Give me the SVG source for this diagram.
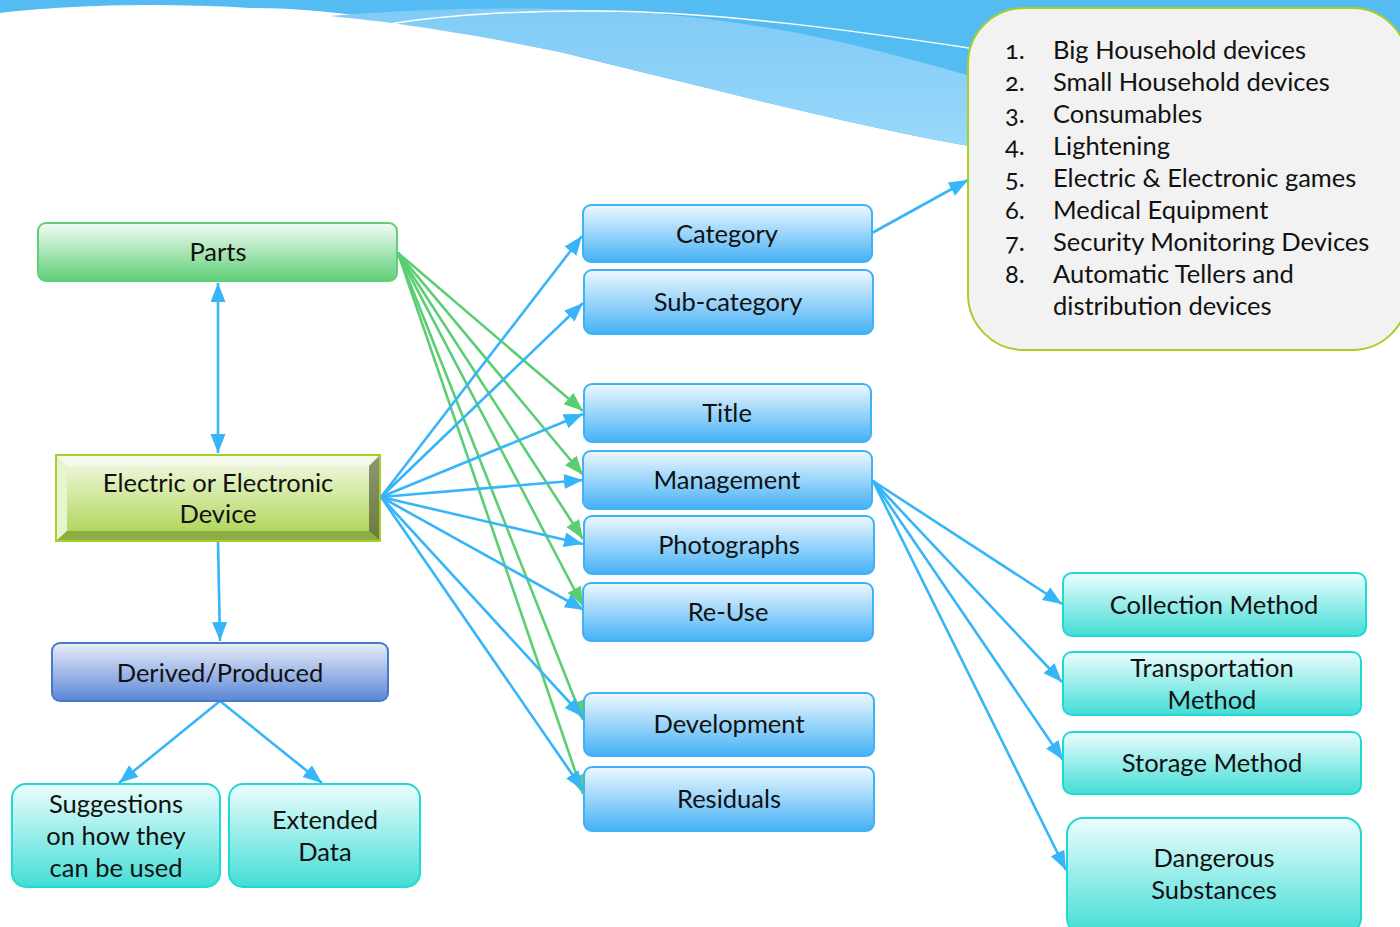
<svg xmlns="http://www.w3.org/2000/svg" width="1400" height="927" viewBox="0 0 1400 927">
<defs>
<linearGradient id="gBlue" x1="0" y1="0" x2="0" y2="1"><stop offset="0" stop-color="#eef8ff"/><stop offset="1" stop-color="#45b1f6"/></linearGradient>
<linearGradient id="gGreen" x1="0" y1="0" x2="0" y2="1"><stop offset="0" stop-color="#f2fcf4"/><stop offset="1" stop-color="#5fcf78"/></linearGradient>
<linearGradient id="gTeal" x1="0" y1="0" x2="0" y2="1"><stop offset="0" stop-color="#ecfdfd"/><stop offset="1" stop-color="#43ddd6"/></linearGradient>
<linearGradient id="gNavy" x1="0" y1="0" x2="0" y2="1"><stop offset="0" stop-color="#e9eef9"/><stop offset="1" stop-color="#5a86d6"/></linearGradient>
<linearGradient id="gLime" x1="0" y1="0" x2="0" y2="1"><stop offset="0" stop-color="#f6fbea"/><stop offset="1" stop-color="#a9d24c"/></linearGradient>
<linearGradient id="gRight" x1="0" y1="0" x2="0" y2="1"><stop offset="0" stop-color="#8e9677"/><stop offset="1" stop-color="#6b7c3a"/></linearGradient>
<linearGradient id="gWave" x1="0" y1="0" x2="0" y2="1"><stop offset="0" stop-color="#80cbf6"/><stop offset="1" stop-color="#9bd9fa"/></linearGradient>
<marker id="aB" markerUnits="userSpaceOnUse" markerWidth="21" markerHeight="17" refX="19" refY="7.5" orient="auto-start-reverse"><path d="M0,0 L19,7.5 L0,15 Z" fill="#36b5f8"/></marker>
<marker id="aG" markerUnits="userSpaceOnUse" markerWidth="21" markerHeight="17" refX="19" refY="7.5" orient="auto"><path d="M0,0 L19,7.5 L0,15 Z" fill="#5bce74"/></marker>
<style>
text{font-family:Lato,"Open Sans","Liberation Sans",sans-serif;font-size:25.5px;fill:#111;text-anchor:middle}
.list text{text-anchor:start;font-variant-numeric:oldstyle-nums}
.b{fill:url(#gBlue);stroke:#3db2f6;stroke-width:2}
.t{fill:url(#gTeal);stroke:#1fdad2;stroke-width:2}
.cb{fill:none;stroke:#36b5f8;stroke-width:2.6;marker-end:url(#aB)}
.cg{fill:none;stroke:#5bce74;stroke-width:2.6;marker-end:url(#aG)}
</style>
</defs>
<rect width="1400" height="927" fill="#ffffff"/>
<g id="background">
<path d="M0,0 H1400 V220 L969,146 C850,125 700,86 560,52 C450,30 350,8 250,8 C150,2 60,6 0,13 Z" fill="#55bcf3"/>
<path d="M330,16 C420,8 560,4 680,16 C800,28 900,55 1000,85 L1000,160 L969,146 C850,125 700,86 560,52 C450,30 390,22 330,16 Z" fill="url(#gWave)"/>
<path d="M386,25 C430,16 520,10 600,11 C720,12 850,30 969,48" fill="none" stroke="#ffffff" stroke-width="1.5"/>
</g>
<g id="connectors">
<line x1="218" y1="283" x2="218" y2="453" class="cb" marker-start="url(#aB)"/>
<line x1="218" y1="542" x2="220" y2="641" class="cb"/>
<line x1="220" y1="701" x2="119" y2="783" class="cb"/>
<line x1="220" y1="701" x2="322" y2="783" class="cb"/>
<line x1="398" y1="253" x2="583" y2="411" class="cg"/>
<line x1="398" y1="253" x2="583" y2="475" class="cg"/>
<line x1="398" y1="253" x2="583" y2="539" class="cg"/>
<line x1="398" y1="253" x2="583" y2="606" class="cg"/>
<line x1="398" y1="253" x2="583" y2="720" class="cg"/>
<line x1="398" y1="253" x2="583" y2="794" class="cg"/>
<line x1="381" y1="497" x2="582" y2="236" class="cb"/>
<line x1="381" y1="497" x2="583" y2="303" class="cb"/>
<line x1="381" y1="497" x2="583" y2="414" class="cb"/>
<line x1="381" y1="497" x2="583" y2="480" class="cb"/>
<line x1="381" y1="497" x2="583" y2="544" class="cb"/>
<line x1="381" y1="497" x2="584" y2="610" class="cb"/>
<line x1="381" y1="497" x2="583" y2="717" class="cb"/>
<line x1="381" y1="497" x2="583" y2="790" class="cb"/>
<line x1="872" y1="233" x2="968" y2="180" class="cb"/>
<line x1="873" y1="481" x2="1062" y2="604" class="cb"/>
<line x1="873" y1="481" x2="1062" y2="682" class="cb"/>
<line x1="873" y1="481" x2="1063" y2="760" class="cb"/>
<line x1="873" y1="481" x2="1066" y2="870" class="cb"/>
</g>
<g id="list" class="list">
<rect x="968" y="8" width="440" height="342" rx="56" fill="#f2f2f2" stroke="#a6cf2a" stroke-width="2"/>
<text x="1005" y="59">1.</text><text x="1053" y="59">Big Household devices</text>
<text x="1005" y="91">2.</text><text x="1053" y="91">Small Household devices</text>
<text x="1005" y="123">3.</text><text x="1053" y="123">Consumables</text>
<text x="1005" y="155">4.</text><text x="1053" y="155">Lightening</text>
<text x="1005" y="187">5.</text><text x="1053" y="187">Electric &amp; Electronic games</text>
<text x="1005" y="219">6.</text><text x="1053" y="219">Medical Equipment</text>
<text x="1005" y="251">7.</text><text x="1053" y="251">Security Monitoring Devices</text>
<text x="1005" y="283">8.</text><text x="1053" y="283">Automatic Tellers and</text>
<text x="1053" y="315">distribution devices</text>
</g>
<g id="parts">
<rect x="38" y="223" width="359" height="58" rx="8" fill="url(#gGreen)" stroke="#5fcf78" stroke-width="2"/>
<text x="218" y="261">Parts</text>
</g>
<g id="device">
<rect x="56" y="455" width="324" height="86" fill="url(#gLime)"/>
<polygon points="56,455 380,455 369,466 67,466" fill="#f4f9ea"/>
<polygon points="56,455 67,466 67,531 56,541" fill="#e8f4d0"/>
<polygon points="380,455 380,541 369,531 369,466" fill="url(#gRight)"/>
<polygon points="56,541 67,531 369,531 380,541" fill="#8dad45"/>
<rect x="56" y="455" width="324" height="86" fill="none" stroke="#a6cf2a" stroke-width="2"/>
<text x="218" y="492">Electric or Electronic</text>
<text x="218" y="523">Device</text>
</g>
<g id="derived">
<rect x="52" y="643" width="336" height="58" rx="8" fill="url(#gNavy)" stroke="#4a78cc" stroke-width="2"/>
<text x="220" y="682">Derived/Produced</text>
</g>
<g id="suggestions">
<rect x="12" y="784" width="208" height="103" rx="14" class="t"/>
<text x="116" y="813">Suggestions</text>
<text x="116" y="845">on how they</text>
<text x="116" y="877">can be used</text>
</g>
<g id="extended">
<rect x="229" y="784" width="191" height="103" rx="14" class="t"/>
<text x="325" y="829">Extended</text>
<text x="325" y="861">Data</text>
</g>
<g id="category"><rect x="583" y="205" width="289" height="57" rx="8" class="b"/><text x="727" y="243">Category</text></g>
<g id="subcategory"><rect x="584" y="270" width="289" height="64" rx="8" class="b"/><text x="728" y="311">Sub-category</text></g>
<g id="title"><rect x="584" y="384" width="287" height="58" rx="8" class="b"/><text x="727" y="422">Title</text></g>
<g id="management"><rect x="583" y="451" width="289" height="58" rx="8" class="b"/><text x="727" y="489">Management</text></g>
<g id="photographs"><rect x="584" y="516" width="290" height="58" rx="8" class="b"/><text x="729" y="554">Photographs</text></g>
<g id="reuse"><rect x="583" y="583" width="290" height="58" rx="8" class="b"/><text x="728" y="621">Re-Use</text></g>
<g id="development"><rect x="584" y="693" width="290" height="63" rx="8" class="b"/><text x="729" y="733">Development</text></g>
<g id="residuals"><rect x="584" y="767" width="290" height="64" rx="8" class="b"/><text x="729" y="808">Residuals</text></g>
<g id="collection"><rect x="1063" y="573" width="303" height="63" rx="9" class="t"/><text x="1214" y="614">Collection Method</text></g>
<g id="transportation"><rect x="1063" y="652" width="298" height="63" rx="9" class="t"/><text x="1212" y="677">Transportation</text><text x="1212" y="709">Method</text></g>
<g id="storage"><rect x="1063" y="732" width="298" height="62" rx="9" class="t"/><text x="1212" y="772">Storage Method</text></g>
<g id="dangerous"><rect x="1067" y="818" width="294" height="116" rx="16" class="t"/><text x="1214" y="867">Dangerous</text><text x="1214" y="899">Substances</text></g>
</svg>
